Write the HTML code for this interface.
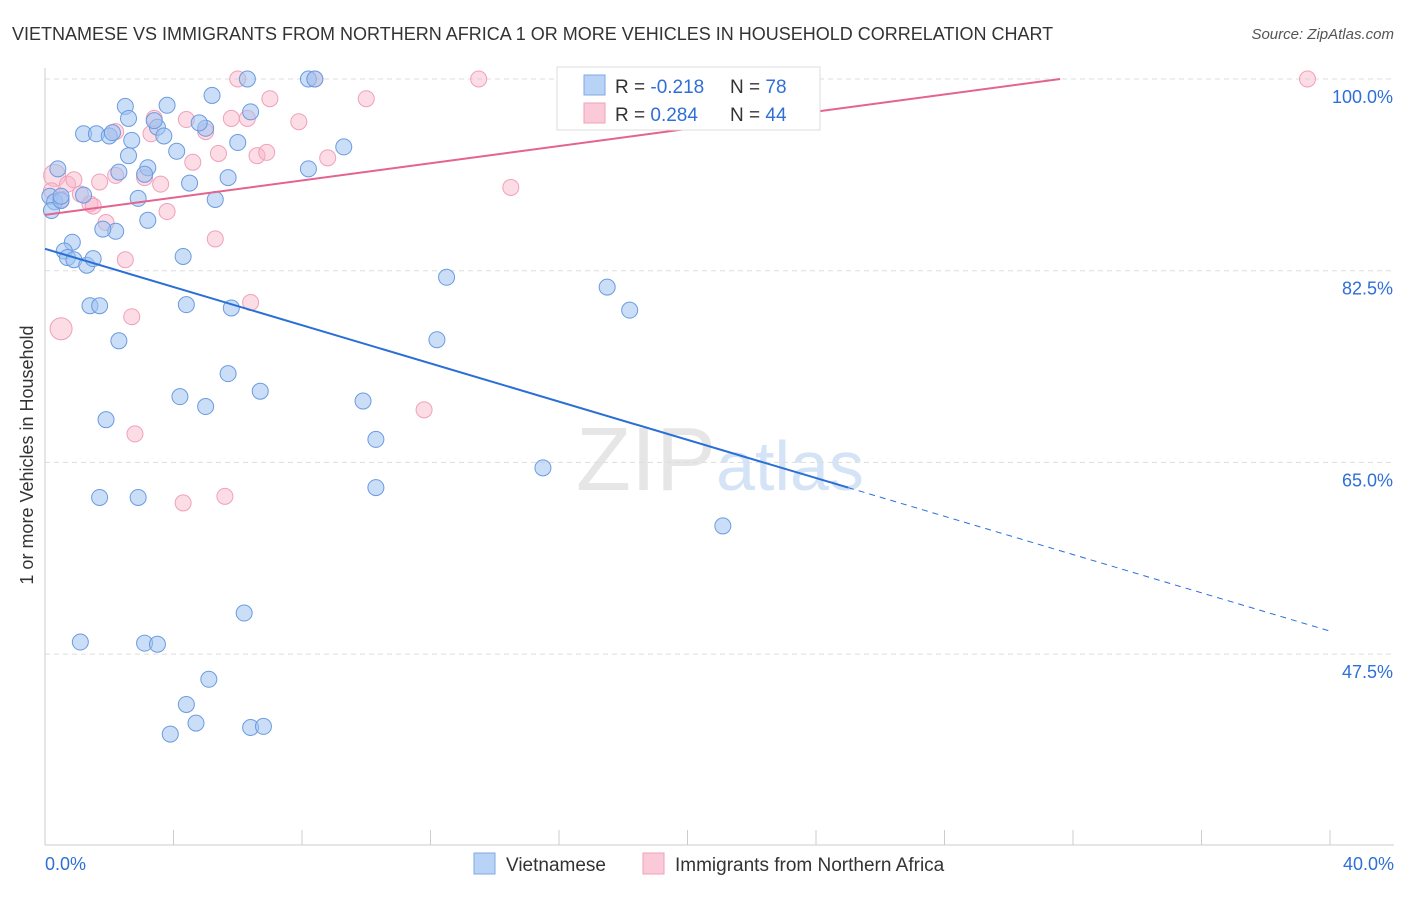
<!DOCTYPE html>
<html><head><meta charset="utf-8"><style>
body{margin:0;background:#fff;font-family:"Liberation Sans",sans-serif;}
svg text{font-family:"Liberation Sans",sans-serif;}
</style></head><body>
<svg width="1406" height="892" xmlns="http://www.w3.org/2000/svg">
<text x="12" y="40" font-size="18" fill="#333">VIETNAMESE VS IMMIGRANTS FROM NORTHERN AFRICA 1 OR MORE VEHICLES IN HOUSEHOLD CORRELATION CHART</text>
<text x="1394" y="39" font-size="15" fill="#555" text-anchor="end" font-style="italic">Source: ZipAtlas.com</text>
<text x="720" y="490" font-size="90" fill="#e6e6e6" text-anchor="middle" font-family="Liberation Serif">ZIP<tspan fill="#d4e3f5" font-family="Liberation Sans" font-size="70">atlas</tspan></text>
<g id="grid"></g>
<g id="axes"></g>
<text x="33" y="455" font-size="18" fill="#333" text-anchor="middle" transform="rotate(-90 33 455)">1 or more Vehicles in Household</text>
<g id="pts"></g>
<g id="lines"></g>
<g>
<rect x="557" y="67" width="263" height="63" fill="#fff" stroke="#ddd"/>
<rect x="584" y="75" width="21" height="20" fill="#b8d3f5" stroke="#7faae6"/>
<rect x="584" y="103" width="21" height="20" fill="#fbcad8" stroke="#f0a0bb"/>
<text x="615" y="93" font-size="19" fill="#333">R = <tspan fill="#2f6fd6">-0.218</tspan></text>
<text x="730" y="93" font-size="19" fill="#333">N = <tspan fill="#2f6fd6"> 78</tspan></text>
<text x="615" y="121" font-size="19" fill="#333">R = <tspan fill="#2f6fd6"> 0.284</tspan></text>
<text x="730" y="121" font-size="19" fill="#333">N = <tspan fill="#2f6fd6">44</tspan></text>
</g>
<g>
<rect x="474" y="853" width="21" height="21" fill="#b8d3f5" stroke="#7faae6"/>
<text x="506" y="871" font-size="19" fill="#333">Vietnamese</text>
<rect x="643" y="853" width="21" height="21" fill="#fbcad8" stroke="#f0a0bb"/>
<text x="675" y="871" font-size="19" fill="#333">Immigrants from Northern Africa</text>
</g>
</svg>
<script>
const yTicks=[100,82.5,65,47.5];
const yTickLabels=["100.0%","82.5%","65.0%","47.5%"];
const xEnds=["0.0%","40.0%"];
const blueX=[0.4,0.15,0.3,0.2,0.5,0.5,1.2,1.6,2.0,2.1,2.5,2.6,2.7,2.6,2.3,3.2,3.5,3.7,3.8,4.1,4.5,5.0,5.2,4.8,5.3,5.7,6.0,6.3,6.4,8.2,8.4,9.3,8.2,2.9,3.2,2.2,1.8,0.85,0.6,0.7,0.9,1.3,1.5,3.1,4.3,12.5,17.5,18.2,1.4,1.7,4.4,5.8,2.3,12.2,5.7,6.7,4.2,5.0,9.9,1.9,10.3,15.5,10.3,1.7,2.9,21.1,6.2,1.1,3.1,3.5,5.1,4.4,4.7,3.9,6.4,6.8,1.2,3.4];
const blueY=[91.8,89.3,88.8,88.0,88.9,89.3,95.0,95.0,94.8,95.1,97.5,96.4,94.4,93.0,91.5,91.9,95.6,94.8,97.6,93.4,90.5,95.5,98.5,96.0,89.0,91.0,94.2,100,97.0,100,100,93.8,91.8,89.1,87.1,86.1,86.3,85.1,84.3,83.7,83.5,83.0,83.6,91.3,83.8,81.9,81.0,78.9,79.3,79.3,79.4,79.1,76.1,76.2,73.1,71.5,71.0,70.1,70.6,68.9,67.1,64.5,62.7,61.8,61.8,59.2,51.25,48.6,48.5,48.4,45.2,42.9,41.2,40.2,40.8,40.9,89.4,96.2];
const pinkX=[0.3,0.5,0.7,0.9,1.1,1.4,1.7,1.5,1.9,2.2,2.2,2.5,2.7,2.8,3.3,3.4,3.6,3.8,4.3,4.4,4.6,5.0,5.3,5.4,5.6,5.8,6.0,6.3,6.4,6.6,6.9,7.0,7.9,8.4,8.8,10.0,11.8,13.5,14.5,19.2,39.3,3.1,0.2,0.5];
const pinkY=[91.2,77.2,90.4,90.8,89.5,88.6,90.6,88.4,86.9,91.2,95.2,83.5,78.3,67.6,95.0,96.4,90.4,87.9,61.3,96.3,92.4,95.2,85.4,93.2,61.9,96.4,100,96.4,79.6,93.0,93.3,98.2,96.1,100,92.8,98.2,69.8,100,90.1,100,100,91.0,89.8,89.0];
const X0=45,X1=1330,XMAX=40,Y100=79,PX_PER=191.7/17.5;
const sx=v=>X0+(X1-X0)*v/XMAX;
const sy=v=>Y100+(100-v)*PX_PER;
const NS="http://www.w3.org/2000/svg";
function mk(t,a,p){const e=document.createElementNS(NS,t);for(const k in a)e.setAttribute(k,a[k]);p.appendChild(e);return e;}
const grid=document.getElementById('grid'),axes=document.getElementById('axes');
yTicks.forEach((v,i)=>{
 const l=mk('line',{x1:45,x2:1394,y1:sy(v),y2:sy(v),stroke:'#ddd','stroke-dasharray':'5,4'},grid);
 
 
 const t=mk('text',{x:1393,y:sy(v)+24,'font-size':18,fill:'#2f6fd6','text-anchor':'end'},axes);
 t.textContent=yTickLabels[i];
 
 
});
mk('line',{x1:45,x2:45,y1:68,y2:845,stroke:'#ccc'},axes);
mk('line',{x1:45,x2:1394,y1:845,y2:845,stroke:'#ccc'},axes);
for(let i=0;i<=10;i++){const x=sx(i*4);const tk=mk('line',{x1:x,x2:x,y1:830,y2:845,stroke:'#ccc'},axes);
 
 }
const xl0=mk('text',{x:45,y:870,'font-size':18,fill:'#2f6fd6'},axes);xl0.textContent=xEnds[0];


const xl1=mk('text',{x:1394,y:870,'font-size':18,fill:'#2f6fd6','text-anchor':'end'},axes);xl1.textContent=xEnds[1];


const pts=document.getElementById('pts');
pinkX.forEach((x,i)=>{const r=(i<2)?11:8;const c=mk('circle',{cx:sx(x),cy:sy(pinkY[i]),r:r,fill:'rgba(248,180,200,0.45)',stroke:'#f0a0bb','stroke-width':1},pts);
 
 });
blueX.forEach((x,i)=>{const c=mk('circle',{cx:sx(x),cy:sy(blueY[i]),r:8,fill:'rgba(160,195,240,0.55)',stroke:'#6b9be0','stroke-width':1},pts);
 
 });
const lines=document.getElementById('lines');
const b1=mk('line',{x1:sx(0),y1:sy(84.5),x2:sx(25),y2:sy(62.7),stroke:'#2a6fd6','stroke-width':2},lines);


const b2=mk('line',{x1:sx(25),y1:sy(62.7),x2:sx(40),y2:sy(49.6),stroke:'#2a6fd6','stroke-width':1,'stroke-dasharray':'6,5'},lines);


const p1=mk('line',{x1:sx(0),y1:sy(87.6),x2:sx(31.6),y2:sy(100),stroke:'#e4638f','stroke-width':2},lines);


</script>
</body></html>
